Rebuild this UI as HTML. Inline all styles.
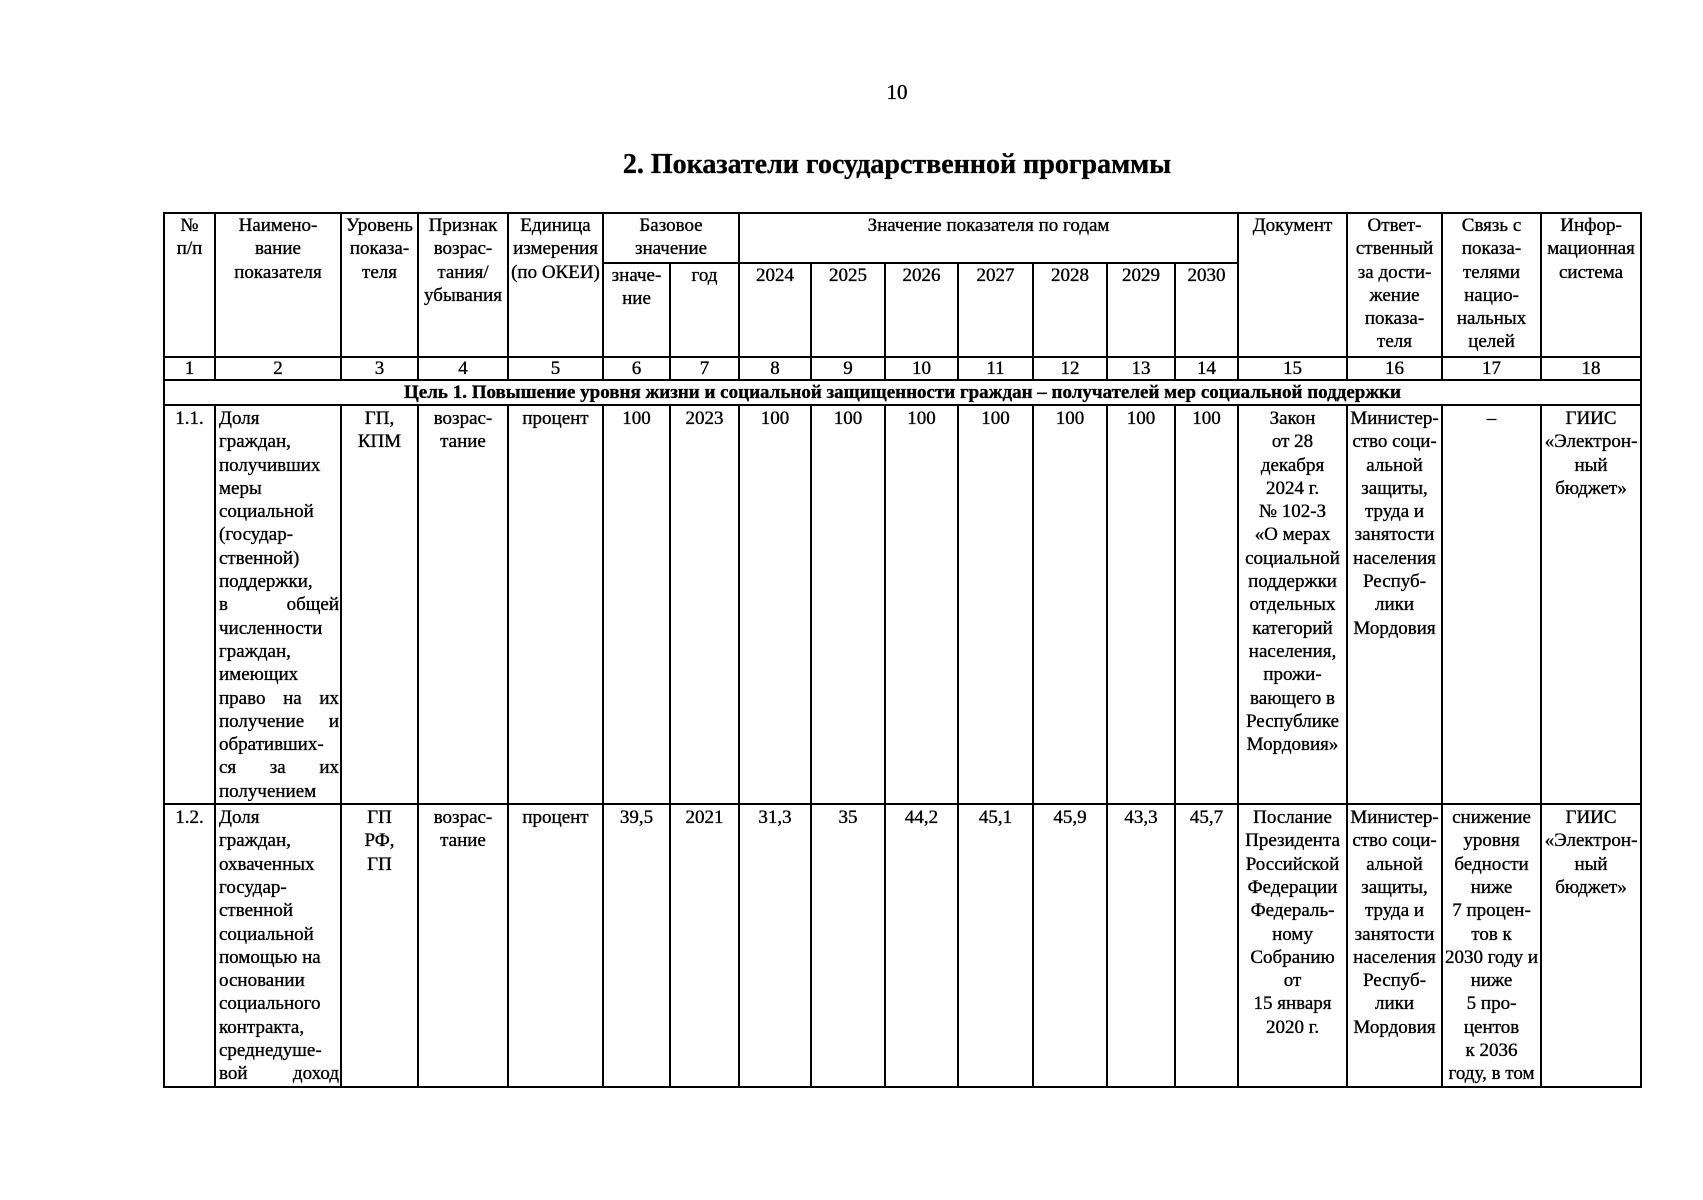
<!DOCTYPE html>
<html><head><meta charset="utf-8"><style>
body{margin:0;background:#fff;width:1703px;height:1200px;position:relative;overflow:hidden;font-family:"Liberation Serif","DejaVu Serif",serif;color:#000;-webkit-text-stroke:0.35px #000}
.pn{position:absolute;left:0;width:1794px;top:80px;text-align:center;font-size:21px}
.tt{position:absolute;left:0;width:1794px;top:149px;text-align:center;font-size:28px;font-weight:bold}
table{position:absolute;left:163px;top:212px;border-collapse:collapse;table-layout:fixed;width:1477px}
td{border:2px solid #000;padding:0 1px;vertical-align:top;text-align:center;font-size:19px;line-height:23.3px;overflow:hidden;white-space:nowrap}
.l{text-align:left;padding-left:3px}
.j{display:flex;justify-content:space-between}
.n td{vertical-align:middle;line-height:21px}
.g td{font-weight:bold;line-height:22px;vertical-align:middle}
.r td{padding-top:1px}
</style></head><body>
<div class="pn">10</div>
<div class="tt">2. Показатели государственной программы</div>
<table>
<colgroup>
<col style="width:51px"><col style="width:126px"><col style="width:77px"><col style="width:90px"><col style="width:95px"><col style="width:67px"><col style="width:69px"><col style="width:72px"><col style="width:74px"><col style="width:73px"><col style="width:75px"><col style="width:74px"><col style="width:68px"><col style="width:63px"><col style="width:109px"><col style="width:95px"><col style="width:99px"><col style="width:100px">
</colgroup>
<tr style="height:50px">
<td rowspan="2">№<br>п/п</td>
<td rowspan="2">Наимено-<br>вание<br>показателя</td>
<td rowspan="2">Уровень<br>показа-<br>теля</td>
<td rowspan="2">Признак<br>возрас-<br>тания/<br>убывания</td>
<td rowspan="2">Единица<br>измерения<br>(по ОКЕИ)</td>
<td colspan="2">Базовое<br>значение</td>
<td colspan="7">Значение показателя по годам</td>
<td rowspan="2">Документ</td>
<td rowspan="2">Ответ-<br>ственный<br>за дости-<br>жение<br>показа-<br>теля</td>
<td rowspan="2">Связь с<br>показа-<br>телями<br>нацио-<br>нальных<br>целей</td>
<td rowspan="2">Инфор-<br>мационная<br>система</td>
</tr>
<tr style="height:94px">
<td>значе-<br>ние</td><td>год</td><td>2024</td><td>2025</td><td>2026</td><td>2027</td><td>2028</td><td>2029</td><td>2030</td>
</tr>
<tr class="n" style="height:23px"><td>1</td><td>2</td><td>3</td><td>4</td><td>5</td><td>6</td><td>7</td><td>8</td><td>9</td><td>10</td><td>11</td><td>12</td><td>13</td><td>14</td><td>15</td><td>16</td><td>17</td><td>18</td></tr>
<tr class="g" style="height:25px"><td colspan="18">Цель 1. Повышение уровня жизни и социальной защищенности граждан – получателей мер социальной поддержки</td></tr>
<tr class="r" style="height:399px">
<td>1.1.</td>
<td class="l">Доля<br>граждан,<br>получивших<br>меры<br>социальной<br>(государ-<br>ственной)<br>поддержки,<br><span class="j"><span>в</span><span>общей</span></span>численности<br>граждан,<br>имеющих<br><span class="j"><span>право</span><span>на</span><span>их</span></span><span class="j"><span>получение</span><span>и</span></span>обративших-<br><span class="j"><span>ся</span><span>за</span><span>их</span></span>получением</td>
<td>ГП,<br>КПМ</td><td>возрас-<br>тание</td><td>процент</td><td>100</td><td>2023</td><td>100</td><td>100</td><td>100</td><td>100</td><td>100</td><td>100</td><td>100</td>
<td>Закон<br>от 28<br>декабря<br>2024 г.<br>№ 102-З<br>«О мерах<br>социальной<br>поддержки<br>отдельных<br>категорий<br>населения,<br>прожи-<br>вающего в<br>Республике<br>Мордовия»</td>
<td>Министер-<br>ство соци-<br>альной<br>защиты,<br>труда и<br>занятости<br>населения<br>Респуб-<br>лики<br>Мордовия</td>
<td>–</td>
<td>ГИИС<br>«Электрон-<br>ный<br>бюджет»</td>
</tr>
<tr class="r" style="height:281px">
<td>1.2.</td>
<td class="l">Доля<br>граждан,<br>охваченных<br>государ-<br>ственной<br>социальной<br>помощью на<br>основании<br>социального<br>контракта,<br>среднедуше-<br><span class="j"><span>вой</span><span>доход</span></span></td>
<td>ГП<br>РФ,<br>ГП</td><td>возрас-<br>тание</td><td>процент</td><td>39,5</td><td>2021</td><td>31,3</td><td>35</td><td>44,2</td><td>45,1</td><td>45,9</td><td>43,3</td><td>45,7</td>
<td>Послание<br>Президента<br>Российской<br>Федерации<br>Федераль-<br>ному<br>Собранию<br>от<br>15 января<br>2020 г.</td>
<td>Министер-<br>ство соци-<br>альной<br>защиты,<br>труда и<br>занятости<br>населения<br>Респуб-<br>лики<br>Мордовия</td>
<td>снижение<br>уровня<br>бедности<br>ниже<br>7 процен-<br>тов к<br>2030 году и<br>ниже<br>5 про-<br>центов<br>к 2036<br>году, в том</td>
<td>ГИИС<br>«Электрон-<br>ный<br>бюджет»</td>
</tr>
</table>
</body></html>
